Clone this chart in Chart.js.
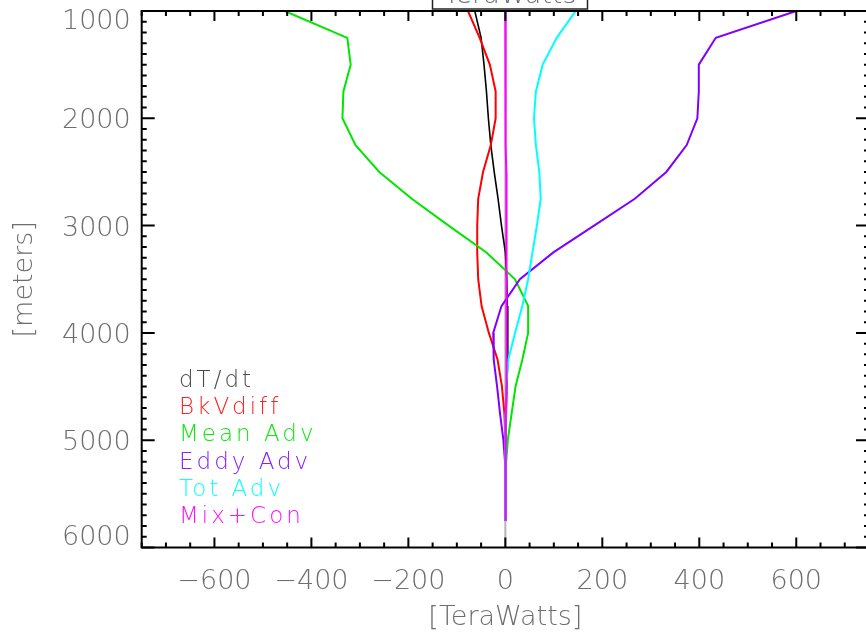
<!DOCTYPE html>
<html>
<head>
<meta charset="utf-8">
<script src="https://cdn.jsdelivr.net/npm/chart.js@4.4.0/dist/chart.umd.min.js"></script>
<style>
  html, body { margin: 0; padding: 0; background: #fff; overflow: hidden; width: 866px; height: 642px; }
  canvas { display: block; }
</style>
</head>
<body>
<canvas id="profile" width="874" height="642"></canvas>
<script>
// Depth levels (meters) shared by every profile
const depths = [1000, 1250, 1500, 1750, 2000, 2250, 2500, 2750, 3000, 3250,
                3500, 3750, 4000, 4250, 4500, 4750, 5000, 5250, 5500, 5750];

// Heat budget terms (TeraWatts) at each depth
const dTdt    = [-63, -50, -44, -39, -35, -30, -23, -15, -8, 0, 3, 4, 5, 5, 3, 2, 1, 0, 0, 0];
const bkVdiff = [-77, -53, -32, -20, -20, -30, -46, -56, -58, -58, -56, -49, -34, -16, -7, -2, 0, 0, 0, 0];
const meanAdv = [-455, -326, -319, -334, -336, -309, -260, -193, -117, -39, 20, 47, 47, 35, 21, 13, 5, 1, 0, 0];
const eddyAdv = [600, 434, 399, 399, 396, 374, 332, 267, 183, 99, 30, -8, -25, -24, -17, -11, -4, 0, 0, 0];
const totAdv  = [145, 106, 77, 63, 59, 63, 70, 73, 65, 56, 47, 35, 20, 6, 2, 1, 0, 0, 0, 0];
const mixCon  = [0, 0, 0, 1, 1, 1, 2, 2, 2, 3, 3, 3, 3, 2, 2, 1, 1, 1, 0, 0];

// zero reference line
const zeroDepths = [1000, 6000];
const zeroValues = [0, 0];

const seriesNames  = ["dT/dt", "BkVdiff", "Mean Adv", "Eddy Adv", "Tot Adv", "Mix+Con"];
const seriesValues = [dTdt, bkVdiff, meanAdv, eddyAdv, totAdv, mixCon];
const lineColors   = ["#000000", "#ff0000", "#00e600", "#7f00ff", "#00ffff", "#ff00ff"];
const legendColors = ["#4a4a4a", "#ff2020", "#10e610", "#8a20ff", "#10ffff", "#ff10ff"];

const xTickLabels = [-600, -400, -200, 0, 200, 400, 600];
const yTickLabels = [1000, 2000, 3000, 4000, 5000, 6000];

const textGrey = "#6e6e6e";
const fontFamily = "'DejaVu Sans', sans-serif";
const thin = 200;

const toPoints = (vals, levels) => vals.map((v, i) => ({ x: v, y: levels[i] }));

const datasets = seriesValues.map((vals, i) => ({
  label: seriesNames[i],
  data: toPoints(vals, depths),
  borderColor: lineColors[i],
  borderWidth: i === 0 ? 1.6 : 2,
  pointRadius: 0,
  tension: 0,
  // last series (Mix+Con) drawn on top
  order: seriesNames.length - i,
}));
datasets.push({
  label: "zero",
  data: toPoints(zeroValues, zeroDepths),
  borderColor: "#b4b4b4",
  borderWidth: 2,
  pointRadius: 0,
  order: 99,
});

// Box frame with inward ticks, y labels, legend and the clipped top label
const framePlugin = {
  id: "frame",
  afterDatasetsDraw(chart) {
    const { ctx, chartArea: a, scales: { x, y } } = chart;
    ctx.save();
    ctx.strokeStyle = "#000";
    ctx.lineWidth = 2;
    ctx.strokeRect(a.left, a.top, a.right - a.left, a.bottom - a.top);

    ctx.beginPath();
    for (let v = x.min; v <= x.max; v += 50) {
      const px = x.getPixelForValue(v);
      const len = v % 200 === 0 ? 10 : 5;
      ctx.moveTo(px, a.bottom); ctx.lineTo(px, a.bottom - len);
      ctx.moveTo(px, a.top); ctx.lineTo(px, a.top + len);
    }
    for (let d = y.min; d <= y.max; d += 100) {
      const py = y.getPixelForValue(d);
      const len = d % 1000 === 0 ? 13 : 5;
      ctx.moveTo(a.left, py); ctx.lineTo(a.left + len, py);
      ctx.moveTo(a.right, py); ctx.lineTo(a.right - len, py);
    }
    ctx.stroke();

    // y tick labels, kept inside the frame at the ends
    ctx.fillStyle = textGrey;
    ctx.font = thin + " 27px " + fontFamily;
    ctx.textAlign = "right";
    ctx.textBaseline = "middle";
    yTickLabels.forEach((d) => {
      let py = y.getPixelForValue(d) + 3;
      py = Math.max(a.top + 11, Math.min(a.bottom - 10, py));
      ctx.fillText(String(d), a.left - 11, py);
    });

    // legend as coloured text
    ctx.textAlign = "left";
    ctx.textBaseline = "alphabetic";
    ctx.font = thin + " 23px " + fontFamily;
    ctx.letterSpacing = "3px";
    seriesNames.forEach((name, i) => {
      ctx.fillStyle = legendColors[i];
      ctx.fillText(name, 179, 387 + i * 27.2);
    });
    ctx.letterSpacing = "0px";

    // top label box, mostly above the page
    ctx.strokeStyle = "#222";
    ctx.lineWidth = 1.5;
    ctx.strokeRect(432.5, -40, 155, 49);
    ctx.fillStyle = textGrey;
    ctx.font = thin + " 27px " + fontFamily;
    ctx.textAlign = "center";
    ctx.fillText("TeraWatts", 510, 3);
    ctx.restore();
  },
};

new Chart(document.getElementById("profile"), {
  type: "line",
  data: { datasets: datasets },
  plugins: [framePlugin],
  options: {
    responsive: false,
    animation: false,
    layout: { padding: { top: 11, right: 5, bottom: 0, left: 0 } },
    plugins: {
      legend: { display: false },
      tooltip: { enabled: false },
    },
    scales: {
      x: {
        type: "linear",
        min: -750,
        max: 750,
        afterBuildTicks: (scale) => { scale.ticks = xTickLabels.map((v) => ({ value: v })); },
        afterFit: (scale) => { scale.height = 94.5; },
        grid: { display: false, drawTicks: false },
        border: { display: false },
        ticks: {
          padding: 18,
          color: textGrey,
          autoSkip: false,
          maxRotation: 0,
          font: { family: fontFamily, size: 27, weight: thin },
          callback: (v) => String(v).replace("-", "\u2212"),
        },
        title: {
          display: true,
          text: "[TeraWatts]",
          color: textGrey,
          font: { family: fontFamily, size: 27, weight: thin },
          padding: { top: 0, bottom: 8 },
        },
      },
      y: {
        type: "linear",
        reverse: true,
        min: 1000,
        max: 6000,
        afterFit: (scale) => { scale.width = 141.7; },
        grid: { display: false, drawTicks: false },
        border: { display: false },
        ticks: { display: false },
        title: {
          display: true,
          text: "[meters]",
          color: textGrey,
          font: { family: fontFamily, size: 27, weight: thin },
          padding: { top: 9, bottom: 0 },
        },
      },
    },
  },
});
</script>
</body>
</html>
